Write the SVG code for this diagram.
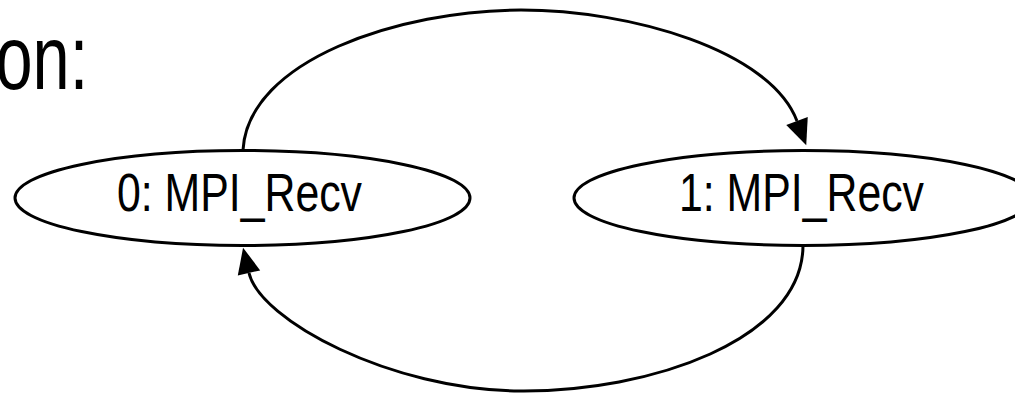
<svg xmlns="http://www.w3.org/2000/svg" width="1015" height="395" viewBox="0 0 1015 395">
<style>
.node ellipse{fill:#fff;stroke:#000;stroke-width:3}
.node text{font-family:"Liberation Sans",Arial,sans-serif;font-size:53px;fill:#000}
.edge{fill:none;stroke:#000;stroke-width:3}
.title{font-family:"Liberation Sans",Arial,sans-serif;font-size:90px;fill:#000}
</style>
<defs>
<marker id="arr" markerUnits="userSpaceOnUse" orient="auto" refX="0" refY="0" markerWidth="30" markerHeight="26" viewBox="0 -13 30 26" overflow="visible">
<path d="M0,-11.5 L26,0 L0,11.5 z" fill="#000"/>
</marker>
</defs>
<rect width="1015" height="395" fill="#fff"/>
<text class="title" x="-4.5" y="89" textLength="92.7" lengthAdjust="spacingAndGlyphs">on:</text>
<g id="n0" class="node">
<ellipse cx="242.5" cy="198" rx="227.5" ry="47.5"/>
<text x="117" y="210.5" textLength="245" lengthAdjust="spacingAndGlyphs">0: MPI_Recv</text>
</g>
<g id="n1" class="node">
<ellipse cx="803" cy="198" rx="229" ry="47.5"/>
<text x="679" y="210.5" textLength="245" lengthAdjust="spacingAndGlyphs">1: MPI_Recv</text>
</g>
<g id="edges">
<path class="edge" marker-end="url(#arr)" d="M243,150 C248,60 400,10 521,10 C630,10 770,50 797,121"/>
<path class="edge" marker-end="url(#arr)" d="M803,245 C803,340 650,392 520,391 C390,390 260,320 249,273"/>
</g>
</svg>
